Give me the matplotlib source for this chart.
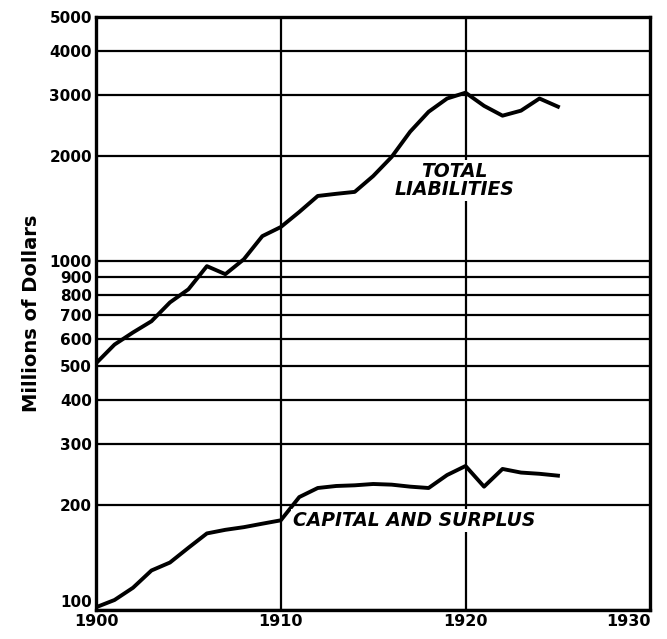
import numpy as np
import matplotlib
matplotlib.use("Agg")
import matplotlib.pyplot as plt
from matplotlib.ticker import FixedLocator, NullLocator

years = list(range(1900, 1926))

# millions of dollars
total_liabilities = [510, 577, 625, 673, 762, 831, 968, 918, 1013, 1180,
                     1253, 1384, 1538, 1560, 1580, 1754, 1990, 2350, 2680, 2925,
                     3040, 2787, 2612, 2700, 2925, 2772]
capital_surplus = [102, 107, 116, 130, 137, 151, 166, 170, 173, 177,
                   181, 211, 224, 227, 228, 230, 229, 226, 224, 244,
                   259, 226, 254, 248, 246, 243]

y_ticks = [100, 200, 300, 400, 500, 600, 700, 800, 900, 1000, 2000, 3000, 4000, 5000]
x_ticks = [1900, 1910, 1920, 1930]

fig = plt.figure(figsize=(6.67, 6.39), dpi=100)
ax = fig.add_axes([0.144, 0.045, 0.831, 0.928])

ax.set_yscale("log")
ax.set_xlim(1900, 1930)
ax.set_ylim(100, 5000)

for v in y_ticks:
    ax.axhline(v, color="black", lw=1.6, zorder=1)
for v in [1910, 1920]:
    ax.axvline(v, color="black", lw=1.6, zorder=1)

ax.plot(years, total_liabilities, color="black", lw=2.8, solid_joinstyle="round", zorder=3)
ax.plot(years, capital_surplus, color="black", lw=2.8, solid_joinstyle="round", zorder=3)

ax.yaxis.set_major_locator(FixedLocator(y_ticks))
ax.yaxis.set_minor_locator(NullLocator())
ax.set_yticklabels([str(v) for v in y_ticks])
ax.set_xticks(x_ticks)
ax.set_xticklabels([str(v) for v in x_ticks])
ax.tick_params(axis="y", length=0, labelsize=11, pad=3)
ax.tick_params(axis="x", length=0, labelsize=11.5, pad=3)
for lab in ax.get_xticklabels() + ax.get_yticklabels():
    lab.set_fontweight("bold")
# keep the corner labels clear of each other and of the edge
ax.get_yticklabels()[0].set_va("bottom")
ax.get_xticklabels()[-1].set_ha("right")
ax.get_xticklabels()[-1].set_x(1930.9)

for s in ax.spines.values():
    s.set_linewidth(2.4)

ax.set_ylabel("Millions of Dollars", fontsize=14, fontweight="bold", labelpad=6)

box = dict(facecolor="white", edgecolor="none", pad=1.5)
ax.text(1919.4, 1700, "TOTAL\nLIABILITIES", ha="center", va="center",
        fontsize=13.5, fontweight="bold", style="italic", linespacing=0.95,
        bbox=box, zorder=4)
ax.text(1917.2, 181, "CAPITAL AND SURPLUS", ha="center", va="center",
        fontsize=13.5, fontweight="bold", style="italic", bbox=box, zorder=4)

fig.savefig("out.png", dpi=100)
